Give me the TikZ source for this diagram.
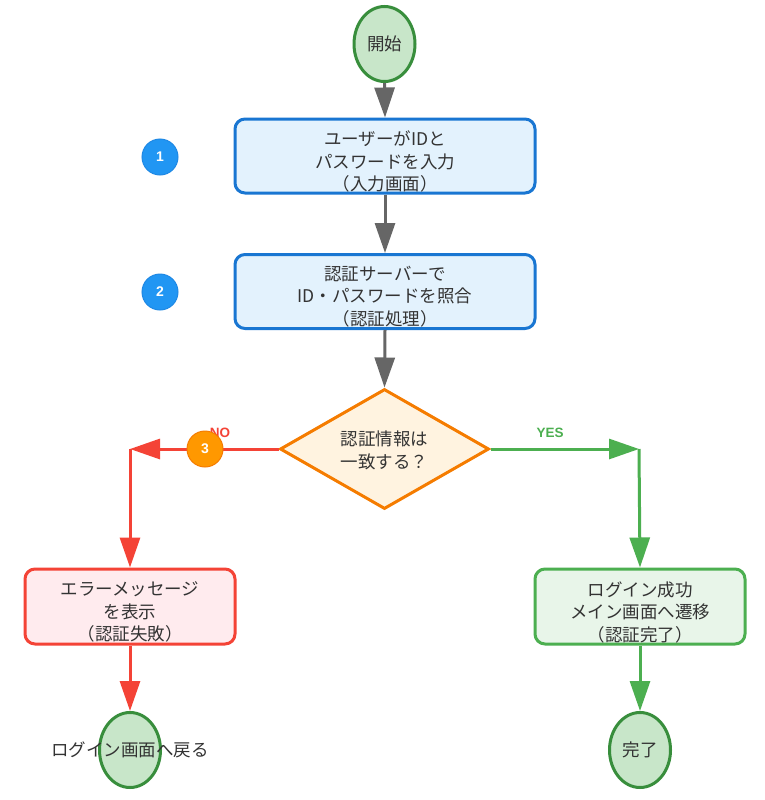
\documentclass[tikz,border=0pt]{standalone}
\usepackage{fontspec}
\setmainfont{Noto Sans CJK JP}
\newfontfamily\latinbold{Liberation Sans}
\usetikzlibrary{shapes.geometric,arrows.meta}
\definecolor{txtc}{HTML}{333333}
\definecolor{arrgray}{HTML}{666666}
\definecolor{bluestroke}{HTML}{1976D2}
\definecolor{bluefill}{HTML}{E3F2FD}
\definecolor{bluecirc}{HTML}{2196F3}
\definecolor{bluecircedge}{HTML}{1E88E5}
\definecolor{orstroke}{HTML}{F57C00}
\definecolor{orfill}{HTML}{FFF3E0}
\definecolor{orcirc}{HTML}{FF9800}
\definecolor{redc}{HTML}{F44336}
\definecolor{redfill}{HTML}{FFEBEE}
\definecolor{greenc}{HTML}{4CAF50}
\definecolor{greenfill}{HTML}{E8F5E9}
\definecolor{ellfill}{HTML}{C8E6C9}
\definecolor{ellstroke}{HTML}{388E3C}
\tikzset{
  txt/.style={text=txtc, font=\fontsize{17.5}{22.5}\selectfont, align=center, inner sep=0pt},
  procbox/.style={draw=bluestroke, fill=bluefill, line width=3pt, rounded corners=10pt, minimum width=300pt, minimum height=74pt, inner sep=0pt},
  errbox/.style={draw=redc, fill=redfill, line width=3pt, rounded corners=10pt, minimum width=210pt, minimum height=75pt, inner sep=0pt},
  okbox/.style={draw=greenc, fill=greenfill, line width=3pt, rounded corners=10pt, minimum width=210pt, minimum height=75pt, inner sep=0pt},
  termnode/.style={ellipse, draw=ellstroke, fill=ellfill, line width=3pt, minimum width=61pt, minimum height=75pt, inner sep=0pt},
  decnode/.style={diamond, draw=orstroke, fill=orfill, line width=3pt, aspect=1.74, minimum width=209pt, minimum height=120pt, inner sep=0pt},
  numcirc/.style={circle, minimum size=36pt, inner sep=0pt, text=white, font=\latinbold\bfseries\fontsize{14}{14}\selectfont},
  tip/.style={-{Triangle[length=30pt,width=20pt]}},
  grayarrow/.style={tip, draw=arrgray, fill=arrgray, line width=3pt},
  redarrow/.style={tip, draw=redc, fill=redc, line width=3pt},
  greenarrow/.style={tip, draw=greenc, fill=greenc, line width=3pt},
  branchlabel/.style={font=\latinbold\bfseries\fontsize{13.5}{13.5}\selectfont, inner sep=0pt}
}
\begin{document}
\begin{tikzpicture}[x=1pt,y=-1pt]
\path[use as bounding box, fill=white] (0,0) rectangle (764,800);

% nodes
\node[termnode] (start) at (384.5,44) {};
\node[txt] (startt) at (start.center) {開始};

\node[procbox] (b1) at (385,156) {};
\node[txt] (b1t) at (385,161.5) {ユーザーがIDと\\パスワードを入力\\（入力画面）};

\node[procbox] (b2) at (385,291.5) {};
\node[txt] (b2t) at (385,296.5) {認証サーバーで\\ID・パスワードを照合\\（認証処理）};

\node[decnode] (dec) at (384.5,449) {};
\node[txt] (dect) at (384.5,450.5) {認証情報は\\一致する？};

\node[errbox] (err) at (130,606.5) {};
\node[txt] (errt) at (130,612) {エラーメッセージ\\を表示\\（認証失敗）};

\node[okbox] (ok) at (640,606.5) {};
\node[txt] (okt) at (640,612) {ログイン成功\\メイン画面へ遷移\\（認証完了）};

\node[termnode] (endl) at (130,750) {};
\node[termnode] (endr) at (640,750) {};

\coordinate (nocorner) at (130,449);
\coordinate (yescorner) at (639,449);

% connectors
\draw[grayarrow] (start.south) -- (b1.north);
\draw[grayarrow] (b1.south) -- (b2.north);
\draw[grayarrow] (b2.south) -- (dec.north);
\draw[redarrow] (dec.west) -- (nocorner);
\draw[redarrow] (nocorner) -- (err.north);
\draw[greenarrow] (dec.east) -- (yescorner);
\draw[greenarrow] (yescorner) -- (ok.north);
\draw[redarrow] (err.south) -- (endl.north);
\draw[greenarrow] (ok.south) -- (endr.north);

% terminal texts on top
\node[txt] (endlt) at (endl.center) {ログイン画面へ戻る};
\node[txt] (endrt) at (endr.center) {完了};

% labels
\node[branchlabel, text=redc] (nolab) at (220,433) {NO};
\node[branchlabel, text=greenc] (yeslab) at (550,433) {YES};

% numbered circles
\node[numcirc, fill=bluecirc, draw=bluecircedge, line width=1pt] (n1) at (160,157) {1};
\node[numcirc, fill=bluecirc, draw=bluecircedge, line width=1pt] (n2) at (160,292) {2};
\node[numcirc, fill=orcirc, draw=orstroke, line width=1pt] (n3) at (205,449) {3};
\end{tikzpicture}
\end{document}
